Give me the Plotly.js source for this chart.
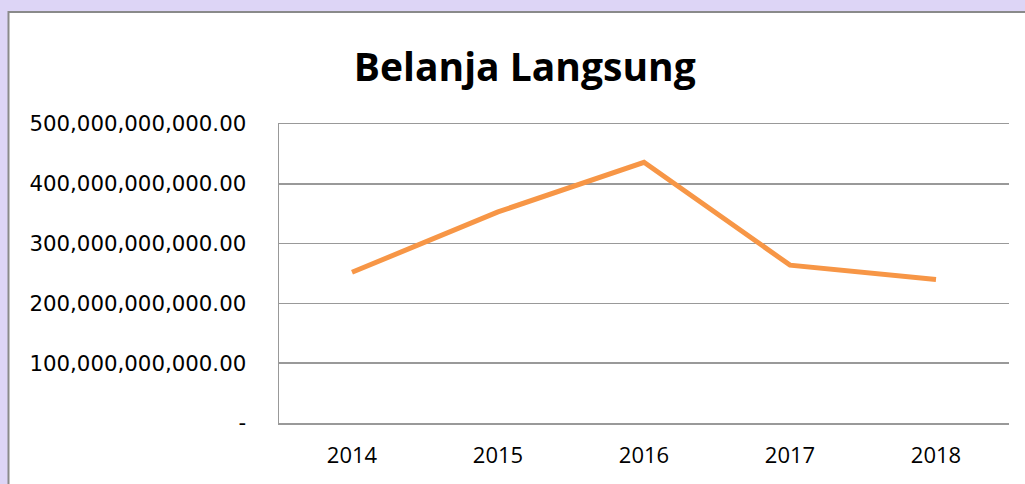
<!DOCTYPE html>
<html>
<head>
<meta charset="utf-8">
<script src="https://cdn.plot.ly/plotly-3.0.1.min.js"></script>
<style>
html,body{margin:0;padding:0;background:#fff;}
#chart{width:1025px;height:484px;}
</style>
</head>
<body>
<div id="chart"></div>
<script>
const years = ["2014", "2015", "2016", "2017", "2018"];
const belanjaLangsung = [252e9, 353e9, 436e9, 264e9, 240e9];
const yTickVals = [0, 100e9, 200e9, 300e9, 400e9, 500e9];
const yTickText = ["-", "100,000,000,000.00", "200,000,000,000.00", "300,000,000,000.00", "400,000,000,000.00", "500,000,000,000.00"];

const trace = {
  x: years,
  y: belanjaLangsung,
  type: "scatter",
  mode: "lines",
  line: {color: "#F79646", width: 5},
  hoverinfo: "x+y"
};

const layout = {
  width: 1025,
  height: 484,
  margin: {l: 279, r: 16, t: 124, b: 61},
  paper_bgcolor: "#ddd5f6",
  plot_bgcolor: "#ffffff",
  showlegend: false,
  font: {family: "DejaVu Sans, sans-serif", color: "#000000"},
  title: {
    text: "<b>Belanja Langsung</b>",
    font: {family: "Open Sans, sans-serif", size: 39, color: "#000000"},
    x: 0.512, xanchor: "center",
    y: 0.86, yanchor: "middle"
  },
  xaxis: {
    type: "category",
    range: [-0.5, 4.5],
    showgrid: false,
    showline: true,
    mirror: true,
    linecolor: "#999999",
    linewidth: 1.5,
    ticks: "",
    tickfont: {family: "Open Sans, sans-serif", size: 22, color: "#000000"},
    ticklabelstandoff: 12,
    zeroline: false,
    fixedrange: true
  },
  yaxis: {
    range: [0, 500e9],
    tickvals: yTickVals,
    ticktext: yTickText,
    showgrid: true,
    gridcolor: "#999999",
    gridwidth: 1.5,
    showline: true,
    linecolor: "#999999",
    linewidth: 1.5,
    ticks: "",
    tickfont: {family: "DejaVu Sans, sans-serif", size: 21.3, color: "#000000"},
    ticklabelstandoff: 27,
    zeroline: false,
    fixedrange: true
  },
  shapes: [{
    type: "rect", xref: "paper", yref: "paper",
    x0: -279/730 + 8.5/730, x1: 1.05, y0: -0.3, y1: 1 + 112/299,
    line: {color: "#8a8a8a", width: 2}, fillcolor: "#ffffff", layer: "below"
  }]
};

Plotly.newPlot("chart", [trace], layout, {displayModeBar: false, staticPlot: true});
</script>
</body>
</html>
